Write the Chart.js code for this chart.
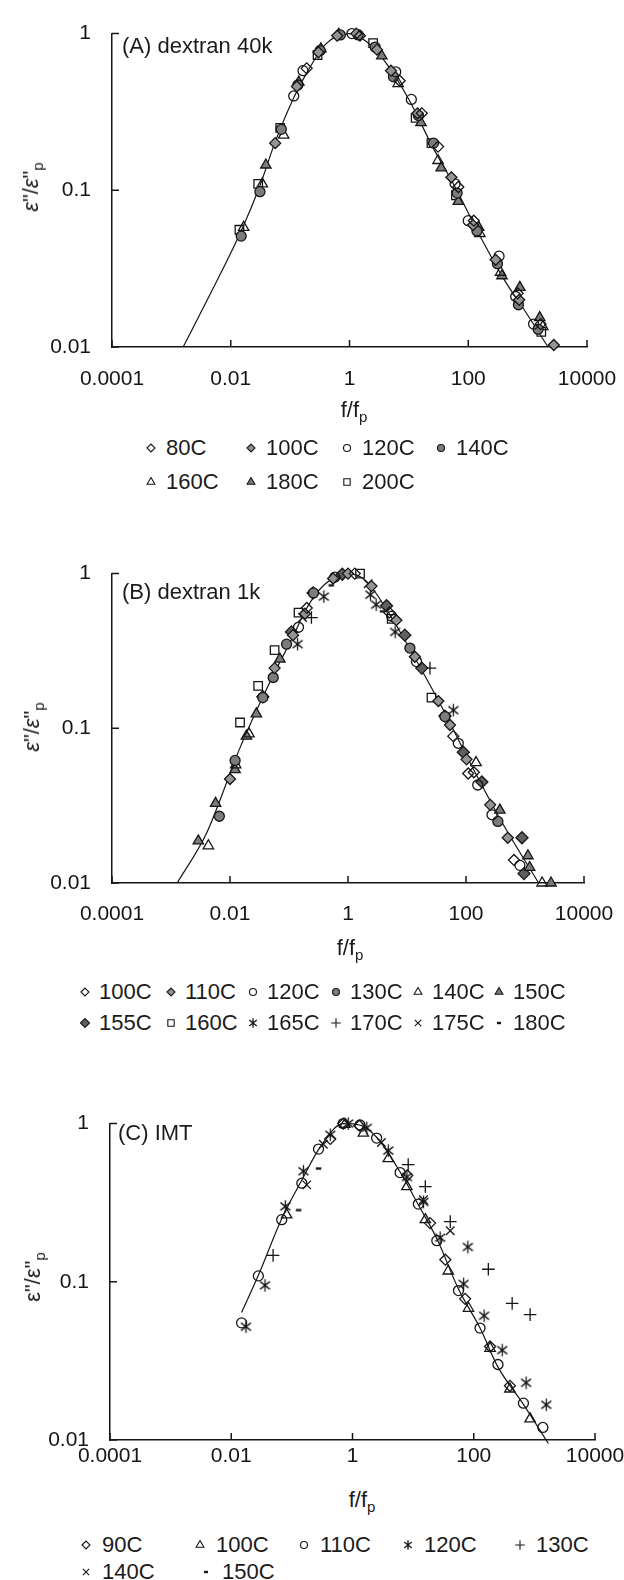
<!DOCTYPE html>
<html>
<head>
<meta charset="utf-8">
<title>Normalized dielectric loss master curves</title>
<script src="https://cdn.jsdelivr.net/npm/chart.js@4.4.1/dist/chart.umd.min.js"></script>
<style>
  html, body { margin: 0; padding: 0; background: #fff; }
  body { position: relative; width: 624px; height: 1580px; overflow: hidden;
         font-family: "Liberation Sans", Arial, Helvetica, sans-serif; color: #1b1b1b; }
  canvas.plot { position: absolute; left: 0; }
  .txt { position: absolute; font-size: 22px; line-height: 24px; white-space: nowrap; }
  .ytitle { transform: translate(-50%, -50%) rotate(-90deg); }
  .xtitle { transform: translate(-50%, -50%); }
  .txt sub { font-size: 15px; vertical-align: -5px; line-height: 0; }
  .leg { position: absolute; font-size: 22px; line-height: 24px; white-space: nowrap; }
</style>
</head>
<body>
<script>
// shared axis ticks
const ticksX = [0.0001, 0.01, 1, 100, 10000];
const ticksXLabels = ['0.0001', '0.01', '1', '100', '10000'];
const ticksY = [0.01, 0.1, 1];
const ticksYLabels = ['0.01', '0.1', '1'];

// (A) dextran 40k  — [f/fp, e''/e''p]
const aNames = ['80C', '100C', '120C', '140C', '160C', '180C', '200C'];
const a80 = [[0.19, 0.6], [1.5, 0.97], [7, 0.5], [16.5, 0.31], [31, 0.19], [68, 0.105], [124, 0.064], [680, 0.022], [1650, 0.014]];
const a100 = [[0.056, 0.2], [0.13, 0.46], [0.3, 0.76], [0.62, 0.97], [1.3, 1.0], [2.9, 0.79], [5, 0.58], [14, 0.31], [52, 0.121], [120, 0.06], [290, 0.036], [720, 0.02], [2760, 0.0103]];
const a120 = [[0.115, 0.4], [0.165, 0.58], [1.1, 1.0], [6, 0.57], [11, 0.38], [60, 0.11], [100, 0.064], [330, 0.038], [630, 0.021], [1260, 0.014]];
const a140 = [[0.015, 0.051], [0.031, 0.098], [0.071, 0.245], [0.135, 0.47], [0.32, 0.78], [0.7, 0.98], [1.4, 0.98], [2.7, 0.82], [5.5, 0.53], [14.5, 0.3], [26, 0.2], [65, 0.096], [140, 0.055], [310, 0.034], [700, 0.0186], [1500, 0.013]];
const a160 = [[0.0165, 0.058], [0.034, 0.11], [0.078, 0.225], [6.6, 0.48], [31, 0.155], [157, 0.053], [350, 0.03], [1800, 0.0135]];
const a180 = [[0.039, 0.145], [0.14, 0.49], [0.33, 0.8], [0.66, 0.99], [3.5, 0.72], [16, 0.27], [35, 0.139], [68, 0.085], [150, 0.058], [370, 0.0285], [740, 0.024], [1600, 0.0154]];
const a200 = [[0.014, 0.056], [0.029, 0.11], [0.068, 0.25], [0.29, 0.73], [2.5, 0.87], [13, 0.29], [24, 0.2], [62, 0.093], [1700, 0.0125]];
const aFitX = [0.00158, 0.005, 0.0153, 0.031, 0.055, 0.115, 0.2, 0.4, 1, 2, 4, 10, 25, 60, 150, 400, 1000, 2200];
const aFitY = [0.01, 0.0235, 0.056, 0.107, 0.2, 0.39, 0.58, 0.86, 1.0, 0.88, 0.66, 0.38, 0.19, 0.105, 0.053, 0.027, 0.016, 0.01];

// (B) dextran 1k
const bNames = ['100C', '110C', '120C', '130C', '140C', '150C', '155C', '160C', '165C', '170C', '175C', '180C'];
const b100 = [[0.2, 0.6], [1.3, 1.0], [5, 0.56], [61, 0.089], [109, 0.051], [136, 0.052], [650, 0.0141]];
const b110 = [[0.01, 0.047], [0.057, 0.245], [0.117, 0.4], [0.186, 0.55], [0.56, 0.93], [1.0, 1.0], [2.5, 0.83], [6.6, 0.5], [13.6, 0.29], [34, 0.15], [53.5, 0.105], [102, 0.063], [257, 0.032], [510, 0.0196]];
const b120 = [[0.145, 0.45], [0.6, 0.95], [5.5, 0.53], [14.5, 0.27], [74, 0.08], [158, 0.043], [276, 0.0276], [820, 0.013]];
const b130 = [[0.0066, 0.027], [0.0122, 0.062], [0.036, 0.158], [0.054, 0.213], [0.091, 0.35], [0.26, 0.75], [11.2, 0.33], [44, 0.119], [347, 0.025]];
const b140 = [[0.0043, 0.0174], [0.0125, 0.058], [0.021, 0.092], [148, 0.06], [1950, 0.01]];
const b150 = [[0.0029, 0.0187], [0.0057, 0.0327], [0.0122, 0.054], [0.019, 0.089], [0.028, 0.124], [0.07, 0.28], [375, 0.0296], [1120, 0.015], [1200, 0.0126], [2760, 0.01]];
const b155 = [[0.036, 0.16], [0.11, 0.42], [0.256, 0.75], [0.8, 0.99], [4.5, 0.62], [9.2, 0.4], [17.8, 0.245], [44, 0.12], [90, 0.07], [186, 0.045], [890, 0.0196], [960, 0.0115]];
const b160 = [[0.0148, 0.109], [0.03, 0.188], [0.057, 0.32], [0.145, 0.56], [1.6, 1.0], [5.5, 0.51], [26, 0.158]];
const b165 = [[0.14, 0.35], [0.39, 0.71], [2.4, 0.73], [3.0, 0.63], [6.3, 0.42], [61, 0.131]];
const b170 = [[0.24, 0.52], [24.5, 0.245]];
const b175 = [[0.17, 0.52], [2.2, 0.86]];
const b180 = [[0.52, 0.84], [3.85, 0.57], [11.2, 0.33]];
const bFitX = [0.00127, 0.004, 0.0148, 0.054, 0.12, 0.19, 0.4, 1, 2, 5, 12, 36, 117, 400, 1700];
const bFitY = [0.01, 0.021, 0.075, 0.22, 0.4, 0.58, 0.85, 1.0, 0.9, 0.55, 0.31, 0.145, 0.06, 0.025, 0.01];

// (C) IMT
const cNames = ['90C', '100C', '110C', '120C', '130C', '140C', '150C'];
const c90 = [[0.43, 0.8], [0.71, 1.0], [1.3, 0.97], [8, 0.47], [19, 0.235], [34, 0.138], [72, 0.078], [186, 0.039], [395, 0.022]];
const c100 = [[0.082, 0.265], [0.75, 0.99], [1.51, 0.87], [3.9, 0.6], [7.9, 0.4], [15.9, 0.247], [38, 0.117], [82, 0.068], [186, 0.038], [395, 0.021], [850, 0.0136]];
const c110 = [[0.0148, 0.055], [0.028, 0.109], [0.068, 0.247], [0.146, 0.42], [0.275, 0.69], [0.7, 1.0], [1.33, 0.98], [2.5, 0.81], [6.1, 0.49], [12.2, 0.31], [24.6, 0.182], [56, 0.088], [127, 0.051], [251, 0.03], [660, 0.0171], [1380, 0.012]];
const c120 = [[0.0175, 0.052], [0.036, 0.095], [0.078, 0.3], [0.155, 0.5], [0.43, 0.85], [0.85, 1.0], [1.72, 0.94], [3.9, 0.675], [7.9, 0.46], [14.8, 0.32], [27.9, 0.19], [68, 0.097], [80, 0.166], [148, 0.061], [295, 0.037], [730, 0.023], [1570, 0.0167]];
const c130 = [[0.049, 0.147], [8.3, 0.55], [15.9, 0.4], [41, 0.24], [174, 0.12], [430, 0.073], [850, 0.062]];
const c140 = [[0.176, 0.41], [0.33, 0.74], [3.0, 0.76], [14.8, 0.33], [41, 0.21]];
const c150 = [[0.129, 0.284], [0.275, 0.52]];
const cFitX = [0.0148, 0.028, 0.068, 0.146, 0.3, 0.7, 1.3, 2.5, 6, 12, 25, 56, 127, 250, 660, 1700];
const cFitY = [0.064, 0.11, 0.25, 0.44, 0.72, 1.0, 0.98, 0.82, 0.5, 0.31, 0.185, 0.09, 0.051, 0.029, 0.0168, 0.0095];

// ---- styling ----
const ink = '#161616';
const clear = 'rgba(255,255,255,0)';
const grayMid = '#7c7c7c', grayLight = '#949494', grayDark = '#5f5f5f';
const CW = 660;   // canvas a bit wider than the page so the last x label is not squeezed in
Chart.defaults.font.family = '"Liberation Sans", Arial, Helvetica, sans-serif';
Chart.defaults.font.size = 21;
Chart.defaults.color = ink;

function asterisk(r) {
  const s = Math.ceil(2 * r + 4), m = s / 2, c = document.createElement('canvas');
  c.width = c.height = s;
  const g = c.getContext('2d');
  g.strokeStyle = ink; g.lineWidth = 1.3;
  g.beginPath();
  [90, 38, 142].forEach(deg => {
    const a = deg * Math.PI / 180, dx = Math.cos(a) * r, dy = Math.sin(a) * r;
    g.moveTo(m - dx, m - dy); g.lineTo(m + dx, m + dy);
  });
  g.stroke();
  return c;
}

function dash(r) {
  const s = Math.ceil(2 * r + 4), m = s / 2, c = document.createElement('canvas');
  c.width = c.height = s;
  const g = c.getContext('2d');
  g.strokeStyle = ink; g.lineWidth = 2.4;
  g.beginPath(); g.moveTo(m - r * 0.5, m); g.lineTo(m + r * 0.5, m); g.stroke();
  return c;
}

function look(kind, r) {
  switch (kind) {
    case 'dia':  return { style: 'rectRot', fill: clear, r };
    case 'diaF': return { style: 'rectRot', fill: grayLight, r };
    case 'diaD': return { style: 'rectRot', fill: grayDark, r: r + 0.5 };
    case 'cir':  return { style: 'circle', fill: clear, r: r - 0.5 };
    case 'cirF': return { style: 'circle', fill: grayMid, r: r - 0.5 };
    case 'tri':  return { style: 'triangle', fill: clear, r: r + 0.5 };
    case 'triF': return { style: 'triangle', fill: grayMid, r: r + 0.5 };
    case 'sq':   return { style: 'rect', fill: clear, r: r + 0.5 };
    case 'ast':  return { style: asterisk(r + 0.8), fill: clear, r: r + 0.8 };
    case 'plus': return { style: 'cross', fill: clear, r: r + 0.8 };
    case 'x':    return { style: 'crossRot', fill: clear, r: r + 0.5 };
    case 'dash': return { style: dash(r), fill: clear, r };
  }
}

const panels = [
  {
    top: 0, height: 400, area: { left: 112, right: 587, top: 23, bottom: 347 }, xPad: 20,
    label: '(A) dextran 40k', labelAt: [122, 46], yTitleAt: [31, 187], xTitleAt: [354, 410], italic: true,
    series: [[aNames[0], a80, 'dia'], [aNames[1], a100, 'diaF'], [aNames[2], a120, 'cir'], [aNames[3], a140, 'cirF'],
             [aNames[4], a160, 'tri'], [aNames[5], a180, 'triF'], [aNames[6], a200, 'sq']],
    fit: [aFitX, aFitY],
    legend: { rows: [448, 482], gap: 15, pos: [[151, 0], [251, 0], [347, 0], [441, 0], [151, 1], [251, 1], [347, 1]] }
  },
  {
    top: 540, height: 400, area: { left: 112, right: 584, top: 27, bottom: 343 }, xPad: 19,
    label: '(B) dextran 1k', labelAt: [122, 592], yTitleAt: [32, 727], xTitleAt: [350, 948], italic: true,
    series: [[bNames[0], b100, 'dia'], [bNames[1], b110, 'diaF'], [bNames[2], b120, 'cir'], [bNames[3], b130, 'cirF'],
             [bNames[4], b140, 'tri'], [bNames[5], b150, 'triF'], [bNames[6], b155, 'diaD'], [bNames[7], b160, 'sq'],
             [bNames[8], b165, 'ast'], [bNames[9], b170, 'plus'], [bNames[10], b175, 'x'], [bNames[11], b180, 'dash']],
    fit: [bFitX, bFitY],
    legend: { rows: [992, 1023], gap: 14, pos: [[85, 0], [171, 0], [253, 0], [336, 0], [418, 0], [499, 0],
                                                [85, 1], [171, 1], [253, 1], [336, 1], [418, 1], [499, 1]] }
  },
  {
    top: 1090, height: 390, area: { left: 110, right: 595, top: 22, bottom: 350 }, xPad: 4,
    label: '(C) IMT', labelAt: [118, 1133], yTitleAt: [33, 1277], xTitleAt: [362, 1500], italic: false,
    series: [[cNames[0], c90, 'dia'], [cNames[1], c100, 'tri'], [cNames[2], c110, 'cir'], [cNames[3], c120, 'ast'],
             [cNames[4], c130, 'plus'], [cNames[5], c140, 'x'], [cNames[6], c150, 'dash']],
    fit: [cFitX, cFitY],
    legend: { rows: [1545, 1572], gap: 16, pos: [[86, 0], [200, 0], [304, 0], [408, 0], [520, 0], [86, 1], [206, 1]] }
  }
];

// tick marks pointing into the plot, as in the original figure
const inwardTicks = {
  id: 'inwardTicks',
  afterDraw(chart) {
    const { ctx, chartArea: a, scales: { x, y } } = chart;
    ctx.save();
    ctx.strokeStyle = ink; ctx.lineWidth = 1.5;
    ctx.beginPath();
    x.ticks.forEach(t => { const px = x.getPixelForValue(t.value); ctx.moveTo(px, a.bottom); ctx.lineTo(px, a.bottom - 7); });
    y.ticks.forEach(t => { const py = y.getPixelForValue(t.value); ctx.moveTo(a.left, py); ctx.lineTo(a.left + 7, py); });
    ctx.stroke();
    ctx.restore();
  }
};

function addText(html, x, y, cls) {
  const d = document.createElement('div');
  d.className = 'txt ' + (cls || '');
  d.innerHTML = html;
  d.style.left = x + 'px';
  d.style.top = y + 'px';
  document.body.appendChild(d);
  return d;
}

function buildPanel(p) {
  const cv = document.createElement('canvas');
  cv.className = 'plot';
  cv.width = CW; cv.height = p.height;
  cv.style.top = p.top + 'px';
  document.body.appendChild(cv);

  const datasets = p.series.map(([name, pts, kind]) => {
    const L = look(kind, 5.5);
    return {
      label: name,
      data: pts.map(([x, y]) => ({ x, y })),
      showLine: false,
      pointStyle: L.style,
      pointRadius: L.r, pointHoverRadius: L.r,
      pointBackgroundColor: L.fill,
      pointBorderColor: ink,
      pointBorderWidth: 1.3,
      clip: false,
      order: 1
    };
  });
  const [fx, fy] = p.fit;
  datasets.push({
    label: 'fit',
    data: fx.map((x, i) => ({ x, y: fy[i] })),
    showLine: true,
    borderColor: ink,
    borderWidth: 1.2,
    pointRadius: 0,
    cubicInterpolationMode: 'monotone',
    fill: false,
    clip: false,
    order: 2
  });

  new Chart(cv, {
    type: 'scatter',
    data: { datasets },
    options: {
      responsive: false,
      animation: false,
      devicePixelRatio: 1,
      layout: { padding: { left: 0, top: p.area.top, right: CW - p.area.right, bottom: 0 } },
      plugins: { legend: { display: false }, tooltip: { enabled: false } },
      scales: {
        x: {
          type: 'logarithmic', min: 1e-4, max: 1e4,
          afterBuildTicks: s => { s.ticks = ticksX.map(v => ({ value: v })); },
          afterFit: s => { s.height = p.height - p.area.bottom; },
          ticks: { autoSkip: false, maxRotation: 0, padding: p.xPad, callback: (v, i) => ticksXLabels[i] },
          grid: { display: false, drawTicks: false },
          border: { display: true, color: ink, width: 1.5 }
        },
        y: {
          type: 'logarithmic', min: 0.01, max: 1,
          afterBuildTicks: s => { s.ticks = ticksY.map(v => ({ value: v })); },
          afterFit: s => { s.width = p.area.left; },
          ticks: { autoSkip: false, padding: 21, callback: (v, i) => ticksYLabels[i] },
          grid: { display: false, drawTicks: false },
          border: { display: true, color: ink, width: 1.5 }
        }
      }
    },
    plugins: [inwardTicks]
  });

  // panel label, axis titles
  addText(p.label, p.labelAt[0], p.labelAt[1] - 12);
  const eps = p.italic ? '<i>ε</i>' : 'ε';
  addText(eps + '"/' + eps + '"<sub>p</sub>', p.yTitleAt[0], p.yTitleAt[1], 'ytitle');
  addText('f/f<sub>p</sub>', p.xTitleAt[0], p.xTitleAt[1], 'xtitle');

  // legend laid out in fixed columns, like the original
  p.series.forEach(([name, , kind], i) => {
    const [mx, row] = p.legend.pos[i];
    const cy = p.legend.rows[row];
    const mc = document.createElement('canvas');
    mc.width = 16; mc.height = 16;
    mc.style.cssText = 'position:absolute;left:' + (mx - 8) + 'px;top:' + (cy - 8) + 'px';
    document.body.appendChild(mc);
    const g = mc.getContext('2d');
    const L = look(kind, 4);
    g.fillStyle = L.fill; g.strokeStyle = ink; g.lineWidth = 1.1;
    if (Chart.helpers && Chart.helpers.drawPoint) {
      Chart.helpers.drawPoint(g, { pointStyle: L.style, radius: L.r, borderWidth: 1.1, rotation: 0 }, 8, 8);
    } else {
      g.beginPath(); g.arc(8, 8, L.r, 0, Math.PI * 2); g.fill(); g.stroke();
    }
    const t = document.createElement('div');
    t.className = 'leg';
    t.textContent = name;
    t.style.left = (mx + p.legend.gap) + 'px';
    t.style.top = (cy - 12) + 'px';
    document.body.appendChild(t);
  });
}

panels.forEach(buildPanel);
</script>
</body>
</html>
